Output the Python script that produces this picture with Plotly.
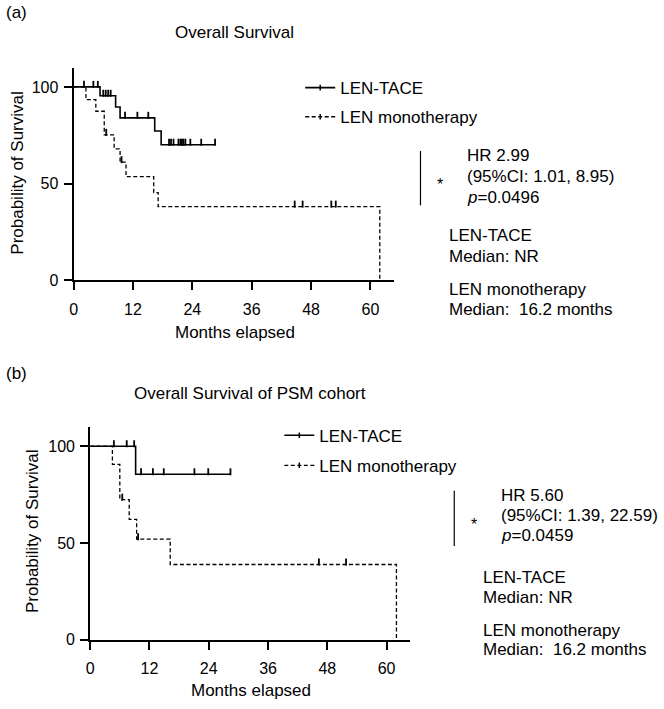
import plotly.graph_objects as go

# ---------------- data ----------------
# Panel (a): Overall Survival
a_tace_event_t = [5.35, 8.5, 9.4, 16.4, 17.7]
a_tace_event_s = [95.4, 89.6, 84.0, 77.2, 70.1]
a_tace_censor = [2.1, 4.0, 4.9, 6.0, 6.5, 7.0, 7.5, 10.4, 12.9, 15.1, 19.3, 19.7,
                 20.2, 21.2, 21.6, 21.9, 22.2, 22.6, 23.6, 25.8, 28.6]

a_mono_event_t = [2.5, 4.5, 6.2, 8.2, 9.4, 10.6, 16.2, 17.1, 61.9]
a_mono_event_s = [93.4, 87.4, 75.2, 68.0, 61.1, 53.6, 45.4, 38.1, 0.0]
a_mono_censor = [6.6, 9.7, 44.7, 46.3, 52.1, 53.0]

# Panel (b): Overall Survival of PSM cohort
b_tace_event_t = [9.2]
b_tace_event_s = [85.5]
b_tace_censor = [4.8, 7.4, 8.9, 10.3, 12.7, 14.9, 21.1, 23.9, 28.4]

b_mono_event_t = [4.5, 6.0, 7.9, 9.4, 16.2, 62.0]
b_mono_event_s = [90.6, 72.4, 62.2, 52.0, 38.9, 0.0]
b_mono_censor = [6.5, 9.7, 46.3, 51.8]

series_names = ["LEN-TACE", "LEN monotherapy"]
x_ticks = [0, 12, 24, 36, 48, 60]
y_ticks = [0, 50, 100]

# ---------------- helpers ----------------
W, H = 664, 709
FONT = "Liberation Sans, Arial, Helvetica, sans-serif"
TICK_UP = 1.3  # censor tick lift (data units) so ticks sit on top of the line


def px(x):
    return x / W


def py(y):
    return 1 - y / H


def km_path(event_t, event_s, censor_t):
    """Build a step path (hv) from events and censor times, plus censor y values."""
    pts = [(0.0, 100.0, "s")]
    for t, s in zip(event_t, event_s):
        pts.append((t, s, "e"))
    for t in censor_t:
        pts.append((t, None, "c"))
    pts.sort(key=lambda p: (p[0], 0 if p[2] == "e" else 1))
    xs, ys, cx, cy = [], [], [], []
    cur = 100.0
    for t, s, kind in pts:
        if kind in ("s", "e"):
            cur = s
        xs.append(t)
        ys.append(cur)
        if kind == "c":
            cx.append(t)
            cy.append(cur + TICK_UP)
    return xs, ys, cx, cy


fig = go.Figure()

styles = [dict(dash="solid", width=1.6), dict(dash="4px,2.5px", width=1.3)]
panels = [
    ("x", "y", "legend", [(a_tace_event_t, a_tace_event_s, a_tace_censor),
                          (a_mono_event_t, a_mono_event_s, a_mono_censor)]),
    ("x2", "y2", "legend2", [(b_tace_event_t, b_tace_event_s, b_tace_censor),
                             (b_mono_event_t, b_mono_event_s, b_mono_censor)]),
]

for xa, ya, lg, curves in panels:
    for i, (et, es, ct) in enumerate(curves):
        xs, ys, cx, cy = km_path(et, es, ct)
        fig.add_trace(go.Scatter(
            x=xs, y=ys, mode="lines", line_shape="hv",
            line=dict(color="black", **styles[i]),
            xaxis=xa, yaxis=ya, showlegend=False, hoverinfo="skip",
            cliponaxis=False))
        fig.add_trace(go.Scatter(
            x=cx, y=cy, mode="markers",
            marker=dict(symbol="line-ns", size=5, line=dict(color="black", width=1.8)),
            xaxis=xa, yaxis=ya, showlegend=False, hoverinfo="skip",
            cliponaxis=False))
        # legend entry
        fig.add_trace(go.Scatter(
            x=[None], y=[None], mode="lines+markers", name=series_names[i],
            line=dict(color="black", **styles[i]),
            marker=dict(symbol="line-ns", size=4, line=dict(color="black", width=1.5)),
            xaxis=xa, yaxis=ya, legend=lg, legendgroup=lg + str(i)))

axis_common = dict(
    showline=True, linecolor="black", linewidth=2,
    ticks="outside", ticklen=8, tickwidth=2, tickcolor="black",
    showgrid=False, zeroline=False,
    tickfont=dict(size=16, family=FONT, color="black"),
)

fig.update_layout(
    width=W, height=H,
    margin=dict(l=0, r=0, t=0, b=0),
    paper_bgcolor="white", plot_bgcolor="white",
    font=dict(family=FONT, size=17, color="black"),
    xaxis=dict(domain=[px(70), px(392)], range=[0, 64.7], tickvals=x_ticks,
               anchor="y", ticklabelstandoff=5, **axis_common),
    yaxis=dict(domain=[py(284), py(69)], range=[0, 109.7], tickvals=y_ticks,
               anchor="x", ticklabelstandoff=2, **axis_common),
    xaxis2=dict(domain=[px(86.7), px(408)], range=[0, 64.65], tickvals=x_ticks,
                anchor="y2", ticklabelstandoff=5, **axis_common),
    yaxis2=dict(domain=[py(648), py(432)], range=[0, 110.2], tickvals=y_ticks,
                anchor="x2", ticklabelstandoff=2, **axis_common),
    legend=dict(x=px(298), y=py(71), xanchor="left", yanchor="top",
                traceorder="grouped", tracegroupgap=4,
                font=dict(size=17, family=FONT), bgcolor="rgba(0,0,0,0)"),
    legend2=dict(x=px(277), y=py(423), xanchor="left", yanchor="top",
                 traceorder="grouped", tracegroupgap=5,
                 font=dict(size=17, family=FONT), bgcolor="rgba(0,0,0,0)"),
    showlegend=True,
)

anns = []


def add_text(text, x, y, xanchor="left", size=17, angle=0):
    anns.append(dict(text=text, x=px(x), y=py(y), xref="paper", yref="paper",
                     xanchor=xanchor, yanchor="middle", showarrow=False,
                     textangle=angle, font=dict(size=size, family=FONT, color="black")))


# panel labels and titles
add_text("(a)", 0, 13)
add_text("(b)", 0, 378)
add_text("Overall Survival", 232, 33, xanchor="center")
add_text("Overall Survival of PSM cohort", 247, 399, xanchor="center")
# axis titles
add_text("Probability of Survival", 14, 175, xanchor="center", angle=-90)
add_text("Probability of Survival", 28, 538, xanchor="center", angle=-90)
add_text("Months elapsed", 232, 337, xanchor="center")
add_text("Months elapsed", 248, 699, xanchor="center")

# statistics (a)
add_text("HR 2.99", 464, 157)
add_text("(95%CI: 1.01, 8.95)", 464, 179)
add_text("<i>p</i>=0.0496", 464, 200)
add_text("*", 439, 187, xanchor="center", size=16)
add_text("LEN-TACE", 446, 239)
add_text("Median: NR", 446, 260)
add_text("LEN monotherapy", 446, 293)
add_text("Median: \u00a016.2 months", 446, 313)

# statistics (b)
add_text("HR 5.60", 498, 502)
add_text("(95%CI: 1.39, 22.59)", 498, 522)
add_text("<i>p</i>=0.0459", 498, 542)
add_text("*", 473, 531, xanchor="center", size=16)
add_text("LEN-TACE", 480, 585)
add_text("Median: NR", 480, 605)
add_text("LEN monotherapy", 480, 639)
add_text("Median: \u00a016.2 months", 480, 658)

fig.update_layout(annotations=anns)

fig.update_layout(shapes=[
    dict(type="line", xref="paper", yref="paper", x0=px(419), x1=px(419),
         y0=py(153), y1=py(208), line=dict(color="black", width=1.2)),
    dict(type="line", xref="paper", yref="paper", x0=px(453), x1=px(453),
         y0=py(497), y1=py(553), line=dict(color="black", width=1.2)),
])

fig.write_html("out.html")
